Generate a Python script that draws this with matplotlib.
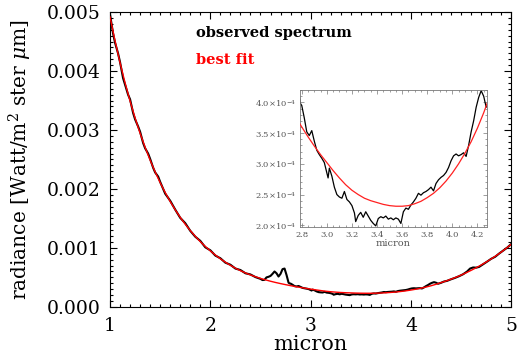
import matplotlib
matplotlib.use("Agg")
import matplotlib.pyplot as plt
from matplotlib.ticker import MultipleLocator, FixedLocator, FixedFormatter

plt.rcParams['font.family'] = ['DejaVu Serif']
plt.rcParams['mathtext.fontset'] = 'dejavuserif'

# ---- data -------------------------------------------------------------
fit_wavelength = [
    1.00, 1.05, 1.10, 1.15, 1.20, 1.25, 1.30, 1.35, 1.40, 1.45,
    1.50, 1.55, 1.60, 1.65, 1.70, 1.75, 1.80, 1.85, 1.90, 1.95,
    2.00, 2.05, 2.10, 2.15, 2.20, 2.25, 2.30, 2.35, 2.40, 2.45,
    2.50, 2.55, 2.60, 2.65, 2.70, 2.75, 2.80, 2.85, 2.90, 2.95,
    3.00, 3.05, 3.10, 3.15, 3.20, 3.25, 3.30, 3.35, 3.40, 3.45,
    3.50, 3.55, 3.60, 3.65, 3.70, 3.75, 3.80, 3.85, 3.90, 3.95,
    4.00, 4.05, 4.10, 4.15, 4.20, 4.25, 4.30, 4.35, 4.40, 4.45,
    4.50, 4.55, 4.60, 4.65, 4.70, 4.75, 4.80, 4.85, 4.90, 4.95,
    5.00]
best_fit = [
    0.004918, 0.004512, 0.004140, 0.003800, 0.003489, 0.003204, 0.002944, 0.002706, 0.002488, 0.002289,
    0.002107, 0.001940, 0.001787, 0.001647, 0.001519, 0.001402, 0.001295, 0.001197, 0.001107, 0.001025,
    0.000950, 0.000880, 0.000816, 0.000758, 0.000705, 0.000657, 0.000614, 0.000576, 0.000542, 0.000511,
    0.000483, 0.000458, 0.000435, 0.000414, 0.000395, 0.000377, 0.000360, 0.000344, 0.000329, 0.000315,
    0.000302, 0.000289, 0.000277, 0.000266, 0.000257, 0.000250, 0.000244, 0.000240, 0.000237, 0.000234,
    0.000232, 0.000231, 0.000231, 0.000232, 0.000235, 0.000239, 0.000245, 0.000252, 0.000261, 0.000272,
    0.000285, 0.000300, 0.000317, 0.000336, 0.000358, 0.000383, 0.000411, 0.000439, 0.000470, 0.000503,
    0.000539, 0.000578, 0.000619, 0.000663, 0.000710, 0.000760, 0.000813, 0.000869, 0.000929, 0.000993,
    0.001061]

obs_wavelength = [
    1.00, 1.03, 1.05, 1.08, 1.10, 1.13, 1.15, 1.18, 1.20, 1.23,
    1.25, 1.28, 1.30, 1.33, 1.35, 1.38, 1.40, 1.43, 1.45, 1.48,
    1.50, 1.55, 1.60, 1.65, 1.70, 1.75, 1.80, 1.85, 1.90, 1.95,
    2.00, 2.05, 2.10, 2.15, 2.20, 2.25, 2.30, 2.35, 2.40, 2.45,
    2.50, 2.52, 2.54, 2.56, 2.58, 2.60, 2.62, 2.64, 2.66, 2.68,
    2.70, 2.72, 2.74, 2.76, 2.78, 2.79, 2.80, 2.82, 2.84, 2.86,
    2.88, 2.90, 2.92, 2.94, 2.96, 2.98, 3.00, 3.01, 3.02, 3.04,
    3.06, 3.08, 3.10, 3.12, 3.14, 3.16, 3.18, 3.20, 3.22, 3.23,
    3.25, 3.27, 3.29, 3.31, 3.33, 3.35, 3.37, 3.39, 3.41, 3.43,
    3.45, 3.47, 3.49, 3.51, 3.53, 3.55, 3.57, 3.59, 3.61, 3.63,
    3.65, 3.67, 3.69, 3.71, 3.73, 3.75, 3.77, 3.79, 3.81, 3.83,
    3.85, 3.87, 3.89, 3.91, 3.93, 3.95, 3.97, 3.99, 4.01, 4.03,
    4.05, 4.07, 4.09, 4.11, 4.13, 4.15, 4.17, 4.19, 4.21, 4.23,
    4.25, 4.27, 4.30, 4.33, 4.36, 4.40, 4.44, 4.48, 4.52, 4.56,
    4.59, 4.62, 4.65, 4.68, 4.72, 4.76, 4.80, 4.84, 4.88, 4.92,
    4.96, 5.00]
observed = [
    0.004960, 0.004640, 0.004480, 0.004300, 0.004150, 0.003880, 0.003770, 0.003600, 0.003520, 0.003290,
    0.003180, 0.003060, 0.002970, 0.002780, 0.002690, 0.002600, 0.002510, 0.002360, 0.002280, 0.002210,
    0.002120, 0.001920, 0.001800, 0.001650, 0.001510, 0.001420, 0.001290, 0.001190, 0.001120, 0.001010,
    0.000960, 0.000870, 0.000825, 0.000750, 0.000715, 0.000650, 0.000625, 0.000570, 0.000550, 0.000505,
    0.000475, 0.000455, 0.000458, 0.000500, 0.000510, 0.000525, 0.000560, 0.000600, 0.000570, 0.000515,
    0.000560, 0.000640, 0.000650, 0.000540, 0.000410, 0.000398, 0.000395, 0.000375, 0.000352, 0.000346,
    0.000354, 0.000337, 0.000322, 0.000315, 0.000309, 0.000302, 0.000285, 0.000277, 0.000293, 0.000280,
    0.000262, 0.000250, 0.000246, 0.000244, 0.000255, 0.000242, 0.000238, 0.000232, 0.000220, 0.000206,
    0.000216, 0.000221, 0.000213, 0.000222, 0.000215, 0.000208, 0.000203, 0.000199, 0.000211, 0.000214,
    0.000212, 0.000215, 0.000210, 0.000212, 0.000209, 0.000212, 0.000210, 0.000203, 0.000222, 0.000228,
    0.000226, 0.000233, 0.000238, 0.000244, 0.000252, 0.000249, 0.000253, 0.000255, 0.000258, 0.000262,
    0.000256, 0.000268, 0.000274, 0.000278, 0.000281, 0.000286, 0.000294, 0.000305, 0.000313, 0.000316,
    0.000313, 0.000315, 0.000318, 0.000312, 0.000330, 0.000352, 0.000370, 0.000392, 0.000408, 0.000419,
    0.000410, 0.000392, 0.000408, 0.000430, 0.000441, 0.000468, 0.000492, 0.000520, 0.000553, 0.000600,
    0.000650, 0.000668, 0.000665, 0.000678, 0.000722, 0.000768, 0.000815, 0.000850, 0.000905, 0.000955,
    0.001005, 0.001065]

main_xticks = [1, 2, 3, 4, 5]
main_yticks = [0.000, 0.001, 0.002, 0.003, 0.004, 0.005]
main_yticklabels = ['0.000', '0.001', '0.002', '0.003', '0.004', '0.005']
inset_xticks = [2.8, 3.0, 3.2, 3.4, 3.6, 3.8, 4.0, 4.2]
inset_xticklabels = ['2.8', '3.0', '3.2', '3.4', '3.6', '3.8', '4.0', '4.2']
inset_yticks = [2.0e-4, 2.5e-4, 3.0e-4, 3.5e-4, 4.0e-4]
inset_yticklabels = [r'2.0$\times$10$^{-4}$', r'2.5$\times$10$^{-4}$', r'3.0$\times$10$^{-4}$',
                     r'3.5$\times$10$^{-4}$', r'4.0$\times$10$^{-4}$']

# ---- figure -----------------------------------------------------------
fig = plt.figure(figsize=(5.19, 3.56), dpi=100)
ax = fig.add_axes([0.212, 0.138, 0.773, 0.828])

ax.plot(obs_wavelength, observed, color='black', lw=1.5, zorder=2)
ax.plot(fit_wavelength, best_fit, color='#ff0000', lw=1.0, zorder=3)

ax.set_xlim(1, 5)
ax.set_ylim(0, 0.005)
ax.xaxis.set_major_locator(FixedLocator(main_xticks))
ax.xaxis.set_minor_locator(MultipleLocator(0.1))
ax.yaxis.set_major_locator(FixedLocator(main_yticks))
ax.yaxis.set_major_formatter(FixedFormatter(main_yticklabels))
ax.yaxis.set_minor_locator(MultipleLocator(0.0001))
ax.tick_params(which='both', direction='in', top=True, right=True, width=0.8, colors='black')
ax.tick_params(which='major', length=5, labelsize=13.5, pad=7)
ax.tick_params(which='minor', length=2.5)
for s in ax.spines.values():
    s.set_linewidth(0.8)

ax.set_xlabel('micron', fontsize=15)
ax.xaxis.set_label_coords(0.5, -0.095)
ax.set_ylabel(r'radiance [Watt/m$^2$ ster $\mu$m]', fontsize=14.5)
ax.yaxis.set_label_coords(-0.19, 0.5)

ax.text(0.214, 0.929, 'observed spectrum', transform=ax.transAxes, fontsize=10.5,
        fontweight='bold', color='black', va='center', ha='left')
ax.text(0.214, 0.837, 'best fit', transform=ax.transAxes, fontsize=10.5,
        fontweight='bold', color='#ff0000', va='center', ha='left')

# ---- inset ------------------------------------------------------------
ins = fig.add_axes([0.578, 0.362, 0.360, 0.385])
ins.plot(obs_wavelength, observed, color='black', lw=0.9, zorder=2)
ins.plot(fit_wavelength, best_fit, color='#ff2020', lw=0.9, zorder=3)
ins.set_xlim(2.786, 4.275)
ins.set_ylim(1.97e-4, 4.2e-4)
ins.xaxis.set_major_locator(FixedLocator(inset_xticks))
ins.xaxis.set_major_formatter(FixedFormatter(inset_xticklabels))
ins.xaxis.set_minor_locator(MultipleLocator(0.05))
ins.yaxis.set_major_locator(FixedLocator(inset_yticks))
ins.yaxis.set_major_formatter(FixedFormatter(inset_yticklabels))
ins.yaxis.set_minor_locator(MultipleLocator(1e-5))
ins.tick_params(which='both', direction='in', top=True, right=True, width=0.5,
                color='#777777', labelcolor='#555555')
ins.tick_params(which='major', length=3, labelsize=6, pad=2.5)
ins.tick_params(which='minor', length=1.5)
for s in ins.spines.values():
    s.set_linewidth(0.6)
    s.set_color('#777777')
ins.set_xlabel('micron', fontsize=7, color='#555555', labelpad=0.5)

fig.savefig('out.png', dpi=100)
